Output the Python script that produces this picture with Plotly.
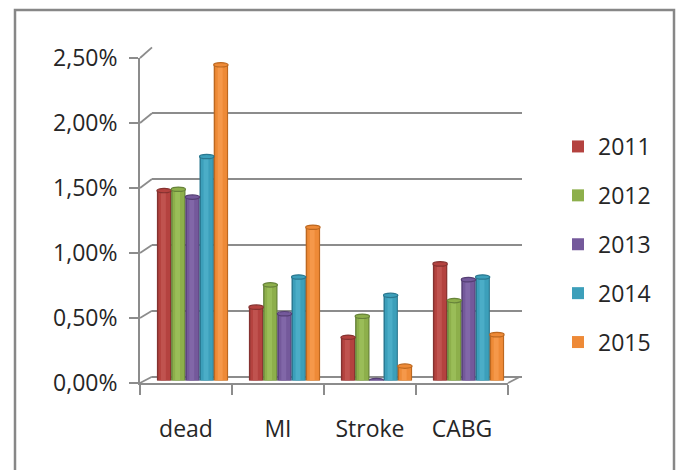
import plotly.graph_objects as go

# ---- data -------------------------------------------------------------
categories = ["dead", "MI", "Stroke", "CABG"]
years = ["2011", "2012", "2013", "2014", "2015"]
rate_2011 = [0.0145, 0.0056, 0.0033, 0.0089]
rate_2012 = [0.0146, 0.0073, 0.0049, 0.0061]
rate_2013 = [0.0140, 0.0051, 0.0000, 0.0077]
rate_2014 = [0.0171, 0.0079, 0.0065, 0.0079]
rate_2015 = [0.0241, 0.0117, 0.0011, 0.0035]
y_ticks = [0.0, 0.005, 0.010, 0.015, 0.020, 0.025]

series = [rate_2011, rate_2012, rate_2013, rate_2014, rate_2015]

# cylinder shading per series: body, darker rim, highlight
body_colors = ["#B4423F", "#8DAF4B", "#74599B", "#3C9FBA", "#EE8A37"]
rim_colors = ["#853230", "#67833A", "#553F74", "#2A7890", "#BD6820"]
light_colors = ["#C0534F", "#9ABD58", "#8167A8", "#4BADC7", "#F5984A"]

# ---- page geometry (pixels) -------------------------------------------
W, H = 681, 470
Y_MAX = 0.025
GRID = "#8C8C8C"
TEXT = "#262626"
FONT = "Open Sans"


def fx(px):
    return px / W


def fy(py):
    return 1 - py / H


# front face of the 3D box (labels), back wall (gridlines), mid-depth (bars)
FRONT_L, FRONT_R, FRONT_B, FRONT_T = 140, 508, 383, 58
BACK_L, BACK_R, BACK_B, BACK_T = 152, 522, 376.7, 47.3
BAR_L, BAR_R, BAR_B, BAR_T = 146.5, 514.5, 380.5, 53


def front_py(v):
    return FRONT_B - (FRONT_B - FRONT_T) * v / Y_MAX


def back_py(v):
    return BACK_B - (BACK_B - BACK_T) * v / Y_MAX


fig = go.Figure()

# back wall subplot (xy): only carries the gridlines
fig.add_trace(go.Scatter(x=[0, 1], y=[0, Y_MAX], mode="none", showlegend=False,
                         hoverinfo="skip", xaxis="x", yaxis="y"))
# front frame subplot (x2y2): percent ticks and category labels
fig.add_trace(go.Scatter(x=categories, y=[0] * len(categories), mode="none",
                         showlegend=False, hoverinfo="skip", xaxis="x2", yaxis="y2"))

# cylinders (x3y3)
BAR_W = 14.4 / ((BAR_R - BAR_L) / len(categories))
ELL = 2.2 * Y_MAX / (BAR_B - BAR_T)
shapes = []
n = len(series)
for i, (yr, vals) in enumerate(zip(years, series)):
    c = (i - (n - 1) / 2) * (14.2 / 92)
    fig.add_trace(go.Bar(x=categories, y=vals, offset=c - BAR_W / 2, width=BAR_W,
                         marker=dict(color=rim_colors[i], line=dict(width=0)),
                         showlegend=False, hoverinfo="skip", legendgroup=yr,
                         xaxis="x3", yaxis="y3"))
    fig.add_trace(go.Bar(x=categories, y=vals, offset=c - 0.40 * BAR_W, width=0.82 * BAR_W,
                         marker=dict(color=body_colors[i], line=dict(width=0)),
                         name=yr, legendgroup=yr, showlegend=True,
                         xaxis="x3", yaxis="y3"))
    fig.add_trace(go.Bar(x=categories, y=vals, offset=c - 0.22 * BAR_W, width=0.34 * BAR_W,
                         marker=dict(color=light_colors[i], line=dict(width=0)),
                         showlegend=False, hoverinfo="skip", legendgroup=yr,
                         xaxis="x3", yaxis="y3"))
    for k, v in enumerate(vals):
        x0, x1 = k + c - BAR_W / 2, k + c + BAR_W / 2
        # rounded base
        shapes.append(dict(type="circle", xref="x3", yref="y3", layer="below",
                           x0=x0, x1=x1, y0=-ELL, y1=ELL,
                           fillcolor=rim_colors[i], line=dict(width=0)))
        # top face
        shapes.append(dict(type="circle", xref="x3", yref="y3", layer="above",
                           x0=x0, x1=x1, y0=v - ELL, y1=v + ELL,
                           fillcolor=body_colors[i],
                           line=dict(color=rim_colors[i], width=1.2)))

# side wall: connect each front tick to its back-wall gridline
for t in y_ticks:
    shapes.append(dict(type="line", xref="paper", yref="paper", layer="below",
                       x0=fx(FRONT_L), y0=fy(front_py(t)),
                       x1=fx(BACK_L), y1=fy(back_py(t)),
                       line=dict(color=GRID, width=1.8)))
# floor, right edge
shapes.append(dict(type="line", xref="paper", yref="paper", layer="below",
                   x0=fx(FRONT_R), y0=fy(FRONT_B), x1=fx(BACK_R - 2), y1=fy(BACK_B),
                   line=dict(color=GRID, width=1.8)))
# chart border
shapes.append(dict(type="rect", xref="paper", yref="paper", layer="below",
                   x0=fx(15), x1=fx(674), y0=fy(485), y1=fy(10),
                   line=dict(color="#878787", width=2.5), fillcolor="rgba(0,0,0,0)"))

tick_font = dict(family=FONT, size=23, color=TEXT)

fig.update_layout(
    template="none",
    width=W, height=H,
    margin=dict(l=0, r=0, t=0, b=0, pad=0, autoexpand=False),
    paper_bgcolor="white", plot_bgcolor="rgba(0,0,0,0)",
    separators=",.",
    barmode="overlay",
    showlegend=True,
    shapes=shapes,
    legend=dict(x=fx(558), y=fy(125), xanchor="left", yanchor="top",
                font=dict(family=FONT, size=23, color=TEXT),
                tracegroupgap=16, bgcolor="rgba(0,0,0,0)", borderwidth=0,
                traceorder="grouped"),
    # back wall gridlines
    xaxis=dict(domain=[fx(BACK_L), fx(BACK_R)], range=[0, 1], visible=False,
               anchor="y", automargin=False),
    yaxis=dict(domain=[fy(BACK_B), fy(BACK_T)], range=[0, Y_MAX], anchor="x",
               tickvals=y_ticks, showticklabels=False, ticks="",
               showgrid=True, gridcolor=GRID, gridwidth=1.8, automargin=False,
               zeroline=True, zerolinecolor=GRID, zerolinewidth=1.8, showline=False),
    # front face: category axis and percent axis
    xaxis2=dict(domain=[fx(FRONT_L), fx(FRONT_R)], anchor="y2", type="category",
                range=[-0.5, len(categories) - 0.5], tickson="boundaries",
                ticks="outside", ticklen=10, tickwidth=1.8, tickcolor=GRID,
                showline=True, linecolor=GRID, linewidth=1.8, showgrid=False,
                zeroline=False, tickfont=tick_font, ticklabelstandoff=24,
                automargin=False),
    yaxis2=dict(domain=[fy(FRONT_B), fy(FRONT_T)], anchor="x2", range=[0, Y_MAX],
                tickvals=y_ticks, tickformat=".2%", ticks="outside", ticklen=9,
                tickwidth=1.8, tickcolor=GRID, showline=True, linecolor=GRID,
                linewidth=1.8, showgrid=False, zeroline=False, tickfont=tick_font,
                ticklabelstandoff=7, automargin=False),
    # cylinders at mid depth
    xaxis3=dict(domain=[fx(BAR_L), fx(BAR_R)], anchor="y3", type="category",
                range=[-0.5, len(categories) - 0.5], visible=False, automargin=False),
    yaxis3=dict(domain=[fy(BAR_B), fy(BAR_T)], anchor="x3", range=[0, Y_MAX],
                visible=False, automargin=False),
)

fig.write_html("out.html")
